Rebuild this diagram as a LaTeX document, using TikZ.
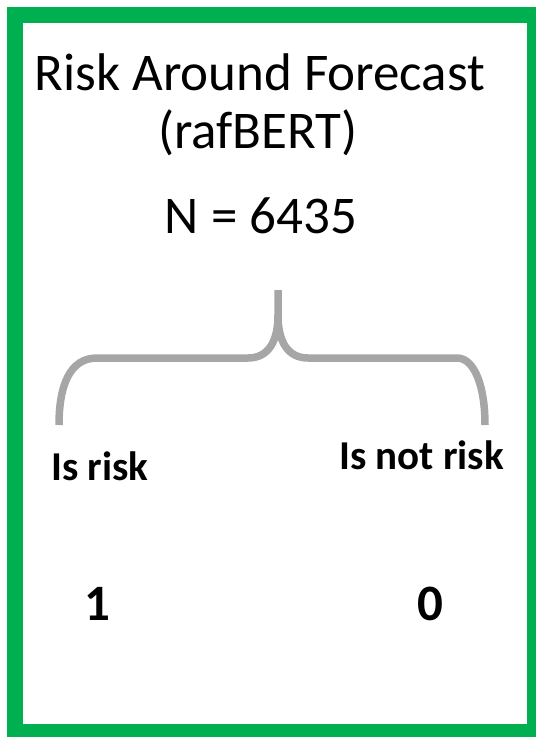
\documentclass[tikz,border=0pt]{standalone}
\usepackage{fontspec}
\setmainfont{Carlito}
\definecolor{frameGreen}{HTML}{00B050}
\definecolor{braceGray}{HTML}{A6A6A6}
\begin{document}
\begin{tikzpicture}[x={(1pt,0)}, y={(0,-1pt)},
  titletext/.style={anchor=base, inner sep=0pt, font=\fontsize{53}{60}\selectfont},
  labeltext/.style={anchor=base, inner sep=0pt, font=\fontsize{41}{47}\selectfont\bfseries},
  digittext/.style={anchor=base, inner sep=0pt, font=\fontsize{51}{58}\selectfont\bfseries},
  bracestyle/.style={draw=braceGray, line width=7.5pt, line cap=butt, line join=round}]
\useasboundingbox (0,0) rectangle (536,737);
\begin{scope}
\clip (0,0) rectangle (536,737);
\draw[frameGreen, line width=16pt] (15,14.5) rectangle (535,732);
\end{scope}
\node[titletext] (title) at (260,90) {Risk Around Forecast};
\node[titletext] (model) at (258,148) {(rafBERT)};
\node[titletext] (count) at (261,233) {N = 6435};
% brace
\coordinate (btop) at (278,290);
\coordinate (bleft) at (59,425);
\coordinate (bright) at (485,425);
\draw[bracestyle] (bleft) .. controls (59,385) and (70,358) .. (97,358)
  -- (248,358) .. controls (268,358) and (278,342) .. (278,315) -- (btop);
\draw[bracestyle] (278,315) .. controls (278,342) and (288,358) .. (308,358)
  -- (457,358) .. controls (474,358) and (485,385) .. (bright);
\node[labeltext] (isrisk) at (100,480) {Is risk};
\node[labeltext] (notrisk) at (421.5,469) {Is not risk};
\node[digittext] (one) at (97.5,620) {1};
\node[digittext] (zero) at (430,620) {0};
\end{tikzpicture}
\end{document}
